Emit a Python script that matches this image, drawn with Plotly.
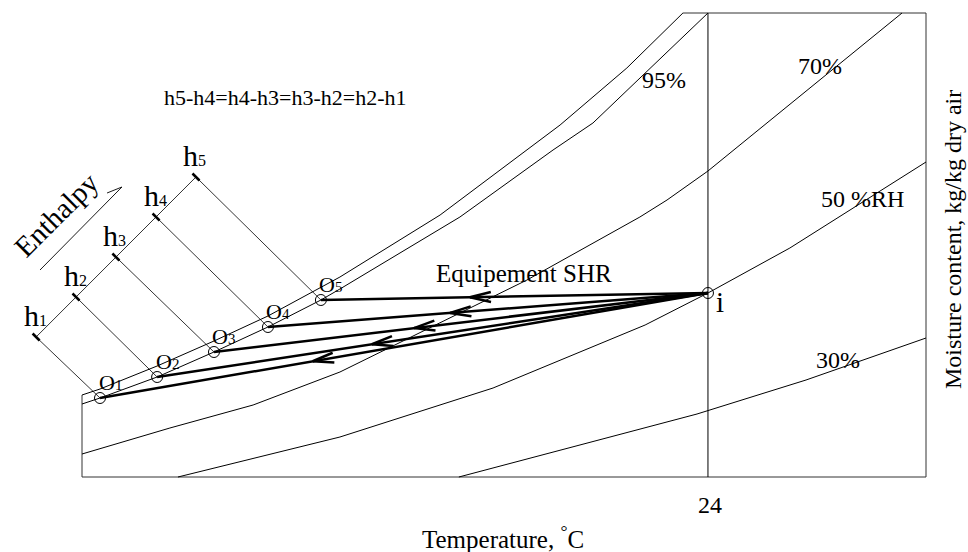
import math
import plotly.graph_objects as go

# ---------------- data (temperature in degC, moisture content in kg/kg) ----------------
sat_t = [0.00, 0.69, 2.88, 5.06, 7.13, 9.89, 13.73, 17.06, 18.33, 20.89, 23.04]
sat_w = [0.00410, 0.00440, 0.00555, 0.00680, 0.00805, 0.01000, 0.01310, 0.01635, 0.01760, 0.02045, 0.02320]

rh95_t = [0.00, 0.69, 2.88, 5.06, 7.13, 9.16, 9.89, 14.49, 18.06, 19.59, 24.00]
rh95_w = [0.00365, 0.00395, 0.00500, 0.00625, 0.00750, 0.00885, 0.00940, 0.01300, 0.01635, 0.01770, 0.02320]

rh70_t = [0.00, 1.57, 3.37, 6.56, 9.89, 17.06, 21.39, 22.43, 24.00, 31.44]
rh70_w = [0.00115, 0.00175, 0.00245, 0.00360, 0.00525, 0.00985, 0.01300, 0.01385, 0.01530, 0.02320]

rh50_t = [3.68, 9.89, 15.76, 21.59, 24.00, 27.14, 32.36]
rh50_w = [0.00000, 0.00200, 0.00445, 0.00760, 0.00920, 0.01145, 0.01575]

rh30_t = [14.45, 23.58, 27.76, 32.36]
rh30_w = [0.00000, 0.00315, 0.00485, 0.00695]

frame_t = [0.00, 0.00, 32.36, 32.36, 23.04]
frame_w = [0.00410, 0.00000, 0.00000, 0.02320, 0.02320]

room_t, room_w = 24.00, 0.00920          # point i (24 degC, 50 %RH)
coil_t = [0.69, 2.88, 5.06, 7.13, 9.16]  # O1..O5 on the 95 % curve
coil_w = [0.00395, 0.00500, 0.00625, 0.00750, 0.00885]
coil_names = ["1", "2", "3", "4", "5"]
arrow_frac = [0.65, 0.61, 0.595, 0.586, 0.615]   # arrow-head position along i -> O

h_t = [-1.76, -0.23, 1.30, 2.84, 4.37]   # enthalpy scale marks h1..h5
h_w = [0.00700, 0.00900, 0.01100, 0.01300, 0.01500]

enth_arrow_t = [-1.61, 1.53, 0.96]
enth_arrow_w = [0.01035, 0.01450, 0.01420]

x_tick_vals = [24]
x_tick_text = ["24"]

# ---------------- layout / scales ----------------
W, H = 968, 552
XMIN, XMAX = -3.144, 33.97
YMIN, YMAX = -0.00375, 0.02385
SX = W / (XMAX - XMIN)      # px per degC
SY = H / (YMAX - YMIN)      # px per kg/kg


def X(px):
    return XMIN + px / SX


def Y(py):
    return YMAX - py / SY


FONT = "Liberation Serif"

fig = go.Figure()


def add_line(xs, ys, width=1.0, color="black"):
    fig.add_trace(go.Scatter(x=xs, y=ys, mode="lines", line=dict(color=color, width=width),
                             hoverinfo="skip", showlegend=False))


# frame and 24 degC line
add_line(frame_t, frame_w, 1.0, "#333333")
add_line([x_tick_vals[0], x_tick_vals[0]], [0, frame_w[3]], 1.0)

# RH curves
for t, w in [(sat_t, sat_w), (rh95_t, rh95_w), (rh70_t, rh70_w), (rh50_t, rh50_w), (rh30_t, rh30_w)]:
    add_line(t, w, 1.0)

# enthalpy scale
ex, ey = [], []
ex += [h_t[0], h_t[-1], None]
ey += [h_w[0], h_w[-1], None]
for k in range(5):
    ex += [h_t[k], coil_t[k], None]
    ey += [h_w[k], coil_w[k], None]
add_line(ex, ey, 0.8)

# tick marks on the enthalpy scale
tx, ty = [], []
for k in range(5):
    d = 3.5
    tx += [h_t[k] - d / SX, h_t[k] + d / SX, None]
    ty += [h_w[k] + d / SY, h_w[k] - d / SY, None]
add_line(tx, ty, 2.5)

# enthalpy direction arrow
add_line(enth_arrow_t[:2], enth_arrow_w[:2], 0.9)
add_line(enth_arrow_t[1:], enth_arrow_w[1:], 0.9)

# process lines i -> O
px_, py_ = [], []
for k in range(5):
    px_ += [room_t, coil_t[k], None]
    py_ += [room_w, coil_w[k], None]
add_line(px_, py_, 2.5)

# chevron arrow heads
cx, cy = [], []
L, Wd = 21.0, 5.0
for k in range(5):
    tt = room_t + arrow_frac[k] * (coil_t[k] - room_t)
    tw = room_w + arrow_frac[k] * (coil_w[k] - room_w)
    dxp = (coil_t[k] - room_t) * SX
    dyp = -(coil_w[k] - room_w) * SY
    n = math.hypot(dxp, dyp)
    ux, uy = dxp / n, dyp / n
    nx, ny = -uy, ux
    for s in (1, -1):
        bx = -L * ux + s * Wd * nx
        by = -L * uy + s * Wd * ny
        cx += [tt + bx / SX, tt, None]
        cy += [tw - by / SY, tw, None]
add_line(cx, cy, 2.5)

# state point circles
fig.add_trace(go.Scatter(x=coil_t + [room_t], y=coil_w + [room_w], mode="markers",
                         marker=dict(symbol="circle-open", size=11, color="black", line=dict(width=1)),
                         hoverinfo="skip", showlegend=False))

# ---------------- text ----------------
ann = []


def text(px, py, s, size=22, angle=0, xanchor="center", yanchor="middle"):
    ann.append(dict(x=X(px), y=Y(py), xref="x", yref="y", text=s, showarrow=False,
                    font=dict(family=FONT, size=size, color="black"), textangle=angle,
                    xanchor=xanchor, yanchor=yanchor))


text(285, 97, "h5-h4=h4-h3=h3-h2=h2-h1", 22)
text(664, 80, "95%", 24)
text(820, 66, "70%", 24)
text(862, 199, "50 %RH", 24)
text(838, 360, "30%", 24)
text(524, 273, "Equipement SHR", 25)
text(720, 302, "i", 29)
text(56, 215, "Enthalpy", 29, angle=-45)

for k in range(5):
    hxp = (h_t[k] - XMIN) * SX
    hyp = (YMAX - h_w[k]) * SY
    text(hxp - 1, hyp - 22, "h<span style='font-size:16px'>%s</span>" % coil_names[k], 30)
    oxp = (coil_t[k] - XMIN) * SX
    oyp = (YMAX - coil_w[k]) * SY
    text(oxp + 10, oyp - 16, "O<span style='font-size:15px'>%s</span>" % coil_names[k], 22)

# axis texts
text((x_tick_vals[0] - XMIN) * SX + 2, 505, x_tick_text[0], 24)
text(503, 537, "Temperature, <sup>°</sup>C", 25)
text(953, 240, "Moisture content, kg/kg dry air", 24, angle=-90)

fig.update_layout(
    width=W, height=H,
    margin=dict(l=0, r=0, t=0, b=0),
    paper_bgcolor="white", plot_bgcolor="white",
    xaxis=dict(range=[XMIN, XMAX], visible=False, fixedrange=True),
    yaxis=dict(range=[YMIN, YMAX], visible=False, fixedrange=True),
    annotations=ann,
    showlegend=False,
)

fig.write_html("out.html")
